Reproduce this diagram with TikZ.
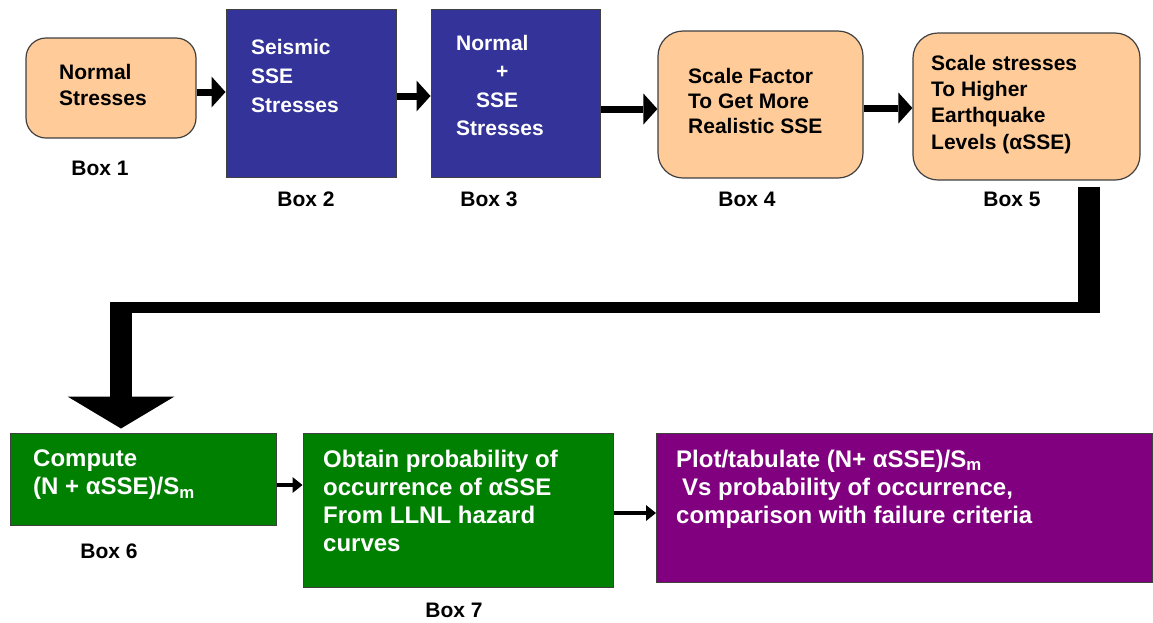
\documentclass[tikz,border=0pt]{standalone}
\usepackage{fontspec}
\setmainfont{Liberation Sans}
\usetikzlibrary{arrows.meta,calc,positioning}
\definecolor{peach}{HTML}{FFCC99}
\definecolor{navybox}{HTML}{333399}
\definecolor{greenbox}{HTML}{008000}
\definecolor{purplebox}{HTML}{800080}
\definecolor{edgegray}{HTML}{404040}
\tikzset{
  roundbox/.style={draw=edgegray, fill=peach, rounded corners=20pt, line width=1.2pt, inner sep=0pt},
  flatbox/.style={draw=edgegray, line width=1pt, inner sep=0pt},
  boxtext/.style={anchor=north west, align=left, inner sep=0pt, font=\bfseries\fontsize{21}{26}\selectfont},
  lowtext/.style={anchor=north west, align=left, inner sep=0pt, text=white, font=\bfseries\fontsize{24}{28}\selectfont},
  boxlabel/.style={inner sep=0pt, font=\bfseries\fontsize{21}{26}\selectfont},
  fatarrow/.style={line width=7pt, -{Triangle[width=31pt,length=14pt,line width=0pt]}},
  thinarrow/.style={line width=4.5pt, -{Triangle[width=16pt,length=10pt,line width=0pt]}},
}

\begin{document}
\begin{tikzpicture}[x=1pt,y=-1pt]
\useasboundingbox (0,0) rectangle (1153,622);
% top row
\node[roundbox, minimum width=170pt, minimum height=100pt] (box1) at (111,88) {};
\node[flatbox, fill=navybox, minimum width=170pt, minimum height=168pt] (box2) at (311,93) {};
\node[flatbox, fill=navybox, minimum width=169pt, minimum height=168pt] (box3) at (515.5,93) {};
\node[roundbox, rounded corners=25pt, minimum width=205pt, minimum height=147pt] (box4) at (760.5,104.5) {};
\node[roundbox, rounded corners=25pt, minimum width=227pt, minimum height=147pt] (box5) at (1026.5,106.5) {};
% bottom row
\node[flatbox, fill=greenbox, minimum width=266pt, minimum height=92pt] (box6) at (143,479) {};
\node[flatbox, fill=greenbox, minimum width=310pt, minimum height=154pt] (box7) at (458,510) {};
\node[flatbox, fill=purplebox, minimum width=496pt, minimum height=149pt] (box8) at (904.5,507.5) {};

% texts
\node[boxtext] (t1) at (59,63.7) {Normal\\Stresses};
\node[boxtext, text=white, font=\bfseries\fontsize{21}{29}\selectfont] (t2) at (251,38.7) {Seismic\\SSE\\Stresses};
\node[boxtext, text=white, font=\bfseries\fontsize{21}{28.5}\selectfont] (t3) at (456,34.7)
  {Normal\\\hspace*{40pt}+\\\hspace*{20pt}SSE\\Stresses};
\node[boxtext, font=\bfseries\fontsize{21}{25}\selectfont] (t4) at (688,67.7) {Scale Factor\\To Get More\\Realistic SSE};
\node[boxtext, font=\bfseries\fontsize{21}{26.3}\selectfont] (t5) at (931,54.7)
  {Scale stresses\\To Higher\\Earthquake\\Levels (αSSE)};
\node[lowtext] (t6) at (33,449.5) {Compute\\(N + αSSE)/S\textsubscript{m}};
\node[lowtext] (t7) at (323,449.5) {Obtain probability of\\occurrence of αSSE\\From LLNL hazard\\curves};
\node[lowtext] (t8) at (676,449.5)
  {Plot/tabulate (N+ αSSE)/S\textsubscript{m}\\\hspace*{6pt}Vs probability of occurrence,\\comparison with failure criteria};

% labels
\node[boxlabel] (lab1) at (100,168) {Box 1};
\node[boxlabel] (lab2) at (306,199) {Box 2};
\node[boxlabel] (lab3) at (489,199) {Box 3};
\node[boxlabel] (lab4) at (747,199) {Box 4};
\node[boxlabel] (lab5) at (1012,199) {Box 5};
\node[boxlabel] (lab6) at (109,551) {Box 6};
\node[boxlabel] (lab7) at (454,610) {Box 7};

% arrows
\draw[fatarrow] ($(box1.east)+(0,4)$) -- ($(box1.east -| box2.west)+(0,4)$);
\draw[fatarrow] ($(box2.east)+(0,3)$) -- ($(box3.west)+(0,3)$);
\draw[fatarrow] ($(box3.east |- box4.west)+(0,4.5)$) -- ($(box4.west)+(0,4.5)$);
\draw[fatarrow] ($(box4.east)+(0,3.5)$) -- ($(box4.east -| box5.west)+(0,3.5)$);
\draw[thinarrow] ($(box6.east)+(0,6)$) -- ($(box6.east -| box7.west)+(0,6)$);
\draw[thinarrow] ($(box7.east)+(0,3)$) -- ($(box7.east -| box8.west)+(0,3)$);

% big return connector
\coordinate (drop) at ($(box5.south)+(62.5,6)$);
\coordinate (turnR) at (1089,307.5);
\coordinate (turnL) at (121,307.5);
\draw[line width=22pt] (drop) -- ($(turnR)+(0,5.5)$);
\draw[line width=11pt] ($(turnR)+(11,0)$) -- ($(turnL)+(-11,0)$);
\draw[line width=22pt, -{Triangle[width=107pt,length=32pt,line width=0pt]}]
  ($(turnL)+(0,-5.5)$) -- ($(box6.north -| turnL)+(0,-4)$);
\end{tikzpicture}
\end{document}
